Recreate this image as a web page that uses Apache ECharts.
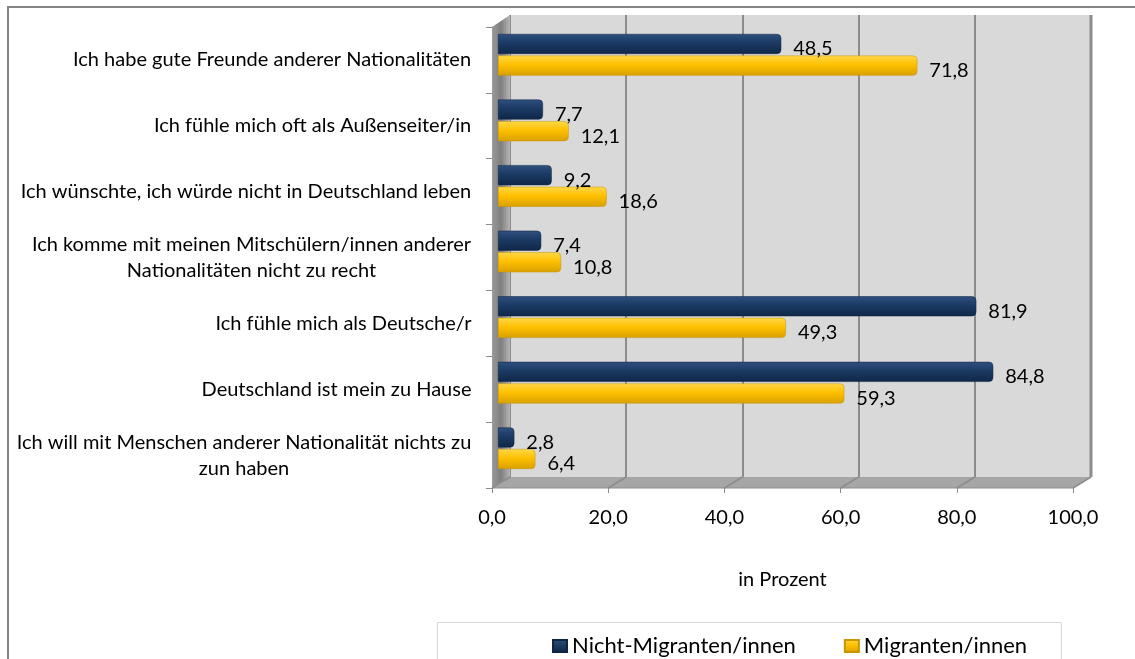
<!DOCTYPE html>
<html>
<head>
<meta charset="utf-8">
<title>Integration - in Prozent</title>
<script src="https://cdn.jsdelivr.net/npm/echarts@6/dist/echarts.min.js"></script>
<style>
html,body{margin:0;padding:0;background:#fff;}
#main{width:1135px;height:659px;}
</style>
</head>
<body>
<div id="main"></div>
<script type="text/javascript">
// Daten
var categories = [
	'Ich habe gute Freunde anderer Nationalitäten',
	'Ich fühle mich oft als Außenseiter/in',
	'Ich wünschte, ich würde nicht in Deutschland leben',
	'Ich komme mit meinen Mitschülern/innen anderer\nNationalitäten nicht zu recht',
	'Ich fühle mich als Deutsche/r',
	'Deutschland ist mein zu Hause',
	'Ich will mit Menschen anderer Nationalität nichts zu\nzun haben'
];
var nichtMigranten = [48.5, 7.7, 9.2, 7.4, 81.9, 84.8, 2.8];
var migranten = [71.8, 12.1, 18.6, 10.8, 49.3, 59.3, 6.4];
var seriesNames = ['Nicht-Migranten/innen', 'Migranten/innen'];
var xTicks = [0, 20, 40, 60, 80, 100];
var axisName = 'in Prozent';

var FONT = 'Lato';
var W = 1135, H = 659;
// Rückwand, Balkenebene, Vorderkante
var gBack = {left: 510, right: 44, top: 15, bottom: 182};
var gBars = {left: 498, right: 53, top: 22, bottom: 178};
var gFront = {left: 492, right: 62, top: 27, bottom: 171};

function fmt(v) { return v.toFixed(1).replace('.', ','); }

// mehrzeilige Beschriftungen zentriert
var ctx = document.createElement('canvas').getContext('2d');
ctx.font = '20px ' + FONT;
var rich = {};
categories.forEach(function(c, i) {
	var w = 0;
	c.split('\n').forEach(function(l) { w = Math.max(w, ctx.measureText(l).width); });
	rich['c' + i] = {width: Math.ceil(w) + 1, align: 'center', fontSize: 20, fontFamily: FONT, lineHeight: 26, color: '#000'};
});

var navy = new echarts.graphic.LinearGradient(0, 0, 0, 1, [
	{offset: 0, color: '#2f5080'}, {offset: 0.45, color: '#1b3a63'}, {offset: 1, color: '#0f2748'}]);
var gold = new echarts.graphic.LinearGradient(0, 0, 0, 1, [
	{offset: 0, color: '#ffd84a'}, {offset: 0.45, color: '#ffc000'}, {offset: 1, color: '#d9a000'}]);

var myChart = echarts.init(document.getElementById('main'), null, {renderer: 'canvas'});

var labelStyle = {
	show: true, position: 'right', distance: 12, offset: [0, 5],
	fontFamily: FONT, fontSize: 20, color: '#000',
	formatter: function(p) { return fmt(p.value); }
};

var option = {
	animation: false,
	textStyle: {fontFamily: FONT},
	grid: [
		{left: gBack.left, right: gBack.right, top: gBack.top, bottom: gBack.bottom, show: true, backgroundColor: '#d9d9d9', borderWidth: 0},
		{left: gBars.left, right: gBars.right, top: gBars.top, bottom: gBars.bottom},
		{left: gFront.left, right: gFront.right, top: gFront.top, bottom: gFront.bottom}
	],
	xAxis: [
		{gridIndex: 0, type: 'value', min: xTicks[0], max: xTicks[xTicks.length - 1], interval: 20,
		 axisLine: {show: false}, axisTick: {show: false}, axisLabel: {show: false},
		 splitLine: {show: true, lineStyle: {color: '#8c8c8c', width: 2}}},
		{gridIndex: 1, type: 'value', min: xTicks[0], max: xTicks[xTicks.length - 1], interval: 20, show: false},
		{gridIndex: 2, type: 'value', min: xTicks[0], max: xTicks[xTicks.length - 1], interval: 20,
		 axisLine: {show: false},
		 axisTick: {show: true, length: 5, lineStyle: {color: '#8c8c8c'}},
		 axisLabel: {margin: 20, fontFamily: FONT, fontSize: 20, color: '#000', formatter: fmt},
		 splitLine: {show: false},
		 name: axisName, nameLocation: 'middle', nameGap: 82,
		 nameTextStyle: {fontFamily: FONT, fontSize: 20, color: '#000'}}
	],
	yAxis: [
		{gridIndex: 0, type: 'category', data: categories, inverse: true, show: false},
		{gridIndex: 1, type: 'category', data: categories, inverse: true, show: false},
		{gridIndex: 2, type: 'category', data: categories, inverse: true,
		 axisLine: {show: true, lineStyle: {color: '#8c8c8c', width: 1}},
		 axisTick: {show: true, length: 6, lineStyle: {color: '#8c8c8c'}},
		 axisLabel: {margin: 20, align: 'right', rich: rich,
		   formatter: function(v, i) {
		     return v.split('\n').map(function(l) { return '{c' + i + '|' + l + '}'; }).join('\n');
		   }},
		 splitLine: {show: false}}
	],
	legend: {
		left: 547, top: 630, itemWidth: 14, itemHeight: 12, itemGap: 48, icon: 'rect',
		textStyle: {fontFamily: FONT, fontSize: 22, color: '#000'},
		data: seriesNames
	},
	series: [
		{name: seriesNames[0], type: 'bar', xAxisIndex: 1, yAxisIndex: 1, z: 5,
		 barWidth: 20, barGap: '8%', data: nichtMigranten,
		 itemStyle: {color: navy, borderRadius: [0, 4, 4, 0], borderColor: '#0e2440', borderWidth: 0.5},
		 label: labelStyle},
		{name: seriesNames[1], type: 'bar', xAxisIndex: 1, yAxisIndex: 1, z: 5,
		 barWidth: 20, data: migranten,
		 itemStyle: {color: gold, borderRadius: [0, 4, 4, 0], borderColor: '#c99400', borderWidth: 0.5},
		 label: labelStyle}
	]
};
myChart.setOption(option);

// 3D-Wand, Boden, Rahmen
function decorate() {
	var bx0 = gBack.left, bx1 = W - gBack.right, by0 = gBack.top, by1 = H - gBack.bottom;
	var fx0 = gFront.left, fx1 = W - gFront.right, fy1 = H - gFront.bottom;
	var els = [];
	els.push({type: 'polygon', z: 1, shape: {points: [[fx0, gFront.top], [bx0, by0], [bx0, by1], [fx0, fy1]]},
		style: {fill: new echarts.graphic.LinearGradient(0, 0, 1, 0, [
			{offset: 0, color: '#9a9a9a'}, {offset: 0.5, color: '#7f7f7f'}, {offset: 1, color: '#b5b5b5'}])}});
	els.push({type: 'polygon', z: 1, shape: {points: [[bx0, by1], [bx1, by1], [fx1, fy1], [fx0, fy1]]},
		style: {fill: '#a6a6a6'}});
	xTicks.forEach(function(v) {
		var xb = myChart.convertToPixel({xAxisIndex: 0}, v);
		var xf = myChart.convertToPixel({xAxisIndex: 2}, v);
		els.push({type: 'line', z: 1, shape: {x1: xb, y1: by1, x2: xf, y2: fy1},
			style: {stroke: '#8c8c8c', lineWidth: 1.5}});
	});
	els.push({type: 'line', z: 1, shape: {x1: bx1, y1: by0, x2: bx1, y2: by1}, style: {stroke: '#8c8c8c', lineWidth: 3}});
	els.push({type: 'line', z: 1, shape: {x1: fx0, y1: fy1, x2: fx1, y2: fy1}, style: {stroke: '#8c8c8c', lineWidth: 1}});
	// Außenrahmen
	els.push({type: 'polyline', z: 1, shape: {points: [[8, H], [8, 7], [W, 7]]}, style: {stroke: '#868686', lineWidth: 2, fill: null}});
	// Legendenrahmen
	els.push({type: 'rect', z: 1, shape: {x: 437.5, y: 622.5, width: 624, height: 60}, style: {stroke: '#d9d9d9', lineWidth: 1, fill: null}});
	myChart.setOption({graphic: els});
}
decorate();
</script>
</body>
</html>
